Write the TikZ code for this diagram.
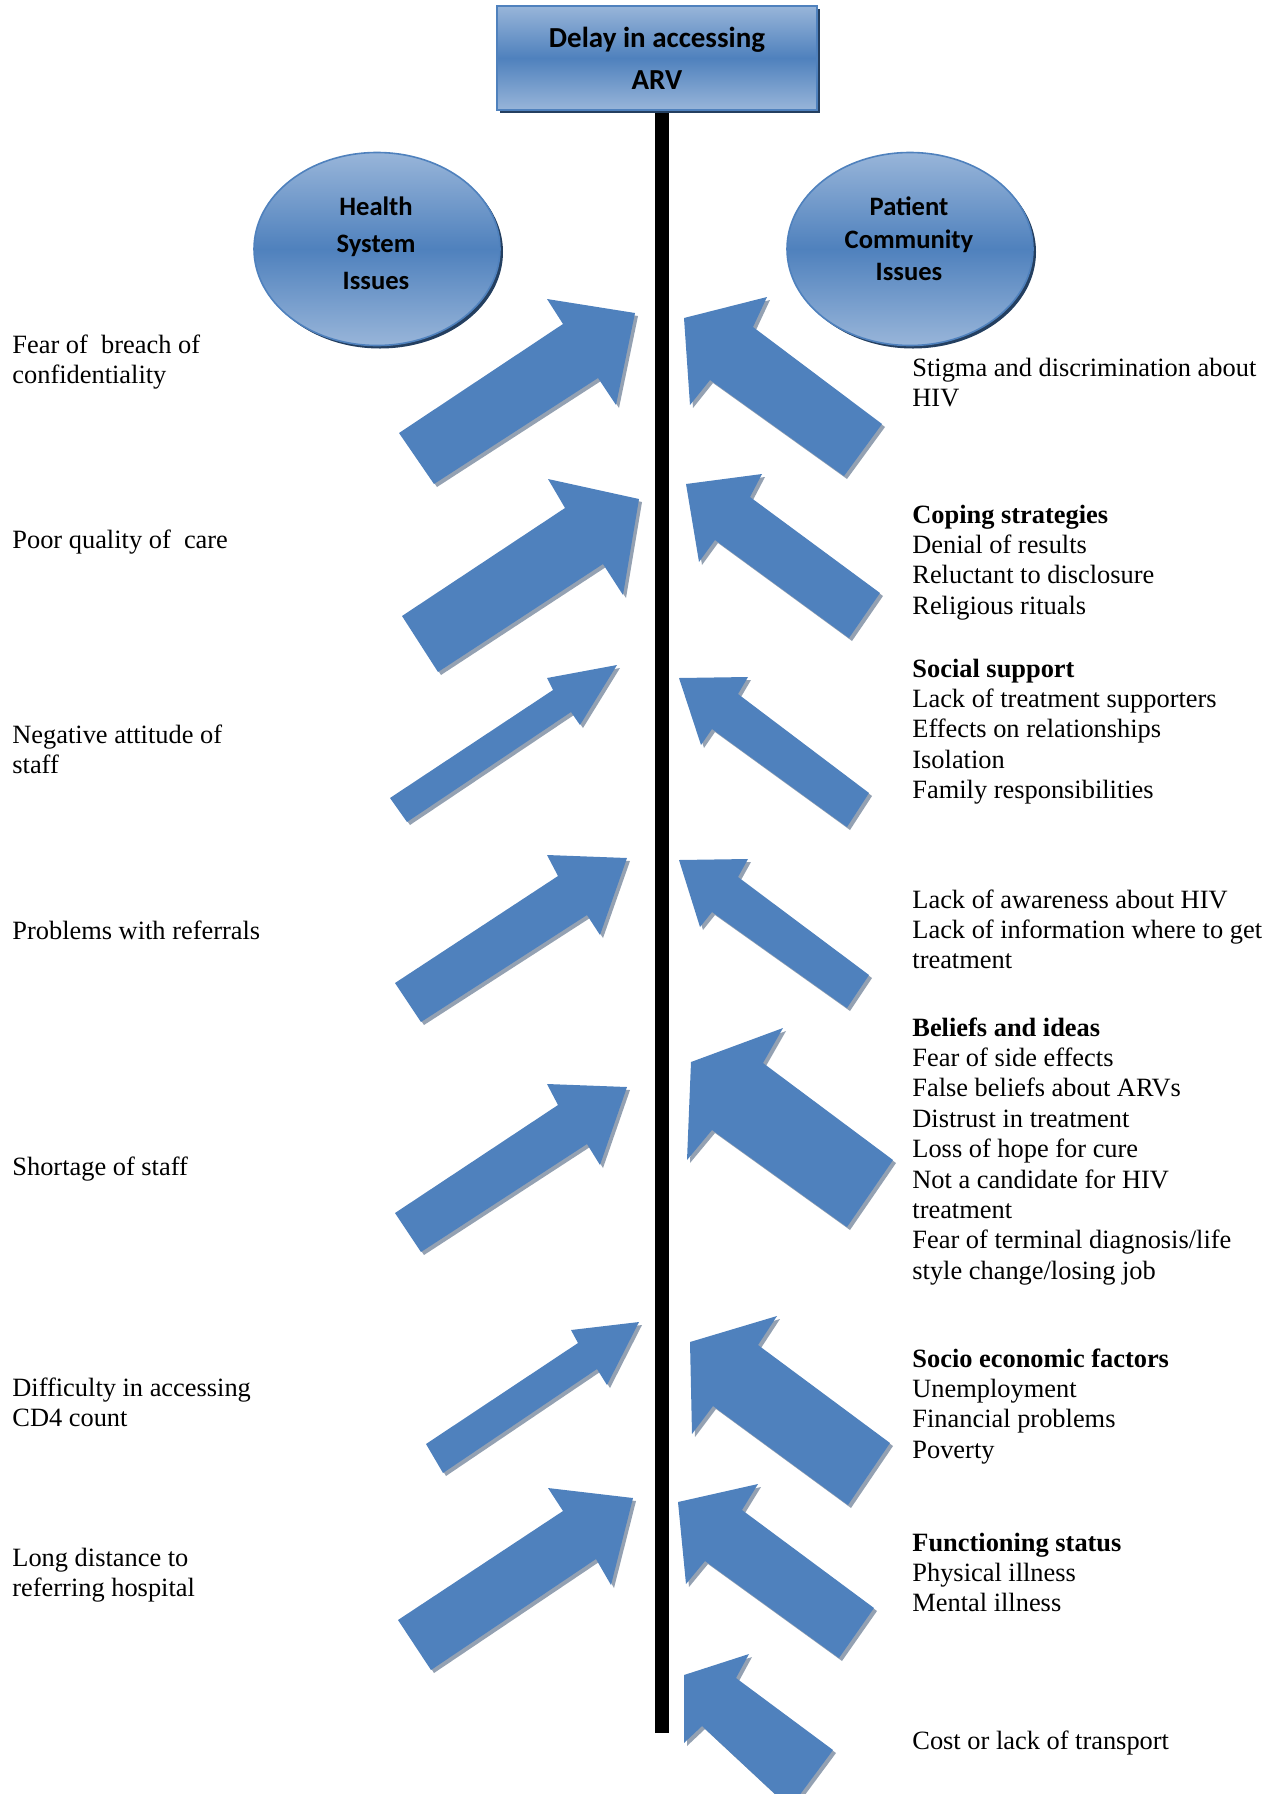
\documentclass[tikz,border=0pt]{standalone}
\usepackage{fontspec}
\setmainfont{Liberation Serif}
\newfontfamily\calibri{Carlito}
\usetikzlibrary{shapes.geometric,shadows}

\definecolor{arrowblue}{HTML}{4F81BD}
\definecolor{arrowgrey}{HTML}{94A1B2}
\definecolor{paleblue}{HTML}{98B5D9}
\definecolor{navyshade}{HTML}{243F60}

\newcommand{\fatarrow}[7]{%
  \fill[arrowgrey,shift={(3,3)}] (#1) -- (#2) -- (#3) -- (#4) -- (#5) -- (#6) -- (#7) -- cycle;
  \fill[arrowblue] (#1) -- (#2) -- (#3) -- (#4) -- (#5) -- (#6) -- (#7) -- cycle;}

\newcommand{\noteblock}[4]{%
  \foreach \ln [count=\k] in {#4}
    \node[note] (#1-\k) at (#2,{#3+(\k-1)*30.4}) {\ln};}

\begin{document}
\begin{tikzpicture}
        [x=0.5pt,y=-0.5pt,
        note/.style={anchor=base west,inner sep=0pt,font=\fontsize{13.2}{15.2}\selectfont},
        glossy/.style={draw=arrowblue,line width=0.8pt,top color=paleblue,bottom color=paleblue,middle color=arrowblue,
                drop shadow={shadow xshift=1.5pt,shadow yshift=-1.5pt,fill=navyshade,opacity=1}},
        issue/.style={glossy,ellipse,minimum width=123pt,minimum height=96.5pt,inner sep=0pt},
        issuetext/.style={align=center,inner sep=0pt,font=\calibri\bfseries\fontsize{13.3}{18.5}\selectfont}]
        \useasboundingbox (0,0) rectangle (1281,1794);
        \clip (0,0) rectangle (1281,1794);

        \fill[black] (655,112) rectangle (669,1733);

        \node[glossy,rectangle,minimum width=160pt,minimum height=52pt,inner sep=0pt,align=center,
                font=\calibri\bfseries\fontsize{14.5}{21}\selectfont] (delay) at (657,58) {Delay in accessing\\ARV};

        \node[issue] (health) at (377,249) {};
        \node[issuetext] (healthtext) at (376,243) {Health\\System\\Issues};
        \node[issue] (patient) at (910,249) {};
        \node[issuetext,font=\calibri\bfseries\fontsize{13.3}{16.3}\selectfont] (patienttext) at (909,239) {Patient\\Community\\Issues};

        % health system side
        \fatarrow{399,433}{563,324}{547,299}{635,313}{616,405}{598,378}{434,484}
        \fatarrow{402,616}{565,508}{548,479}{639,499}{623,595}{603,564}{438,672}
        \fatarrow{390,798}{553,690}{547,678}{617,665}{580,725}{571,712}{407,822}
        \fatarrow{395,983}{558,876}{547,855}{627,858}{600,935}{587,915}{421,1022}
        \fatarrow{395,1213}{558,1105}{547,1084}{627,1087}{600,1165}{587,1144}{421,1252}
        \fatarrow{426,1444}{578,1343}{571,1330}{639,1322}{607,1385}{597,1369}{443,1473}
        \fatarrow{398,1620}{563,1511}{548,1488}{633,1498}{611,1585}{596,1559}{431,1670}

        % patient community side
        \fatarrow{882,424}{753,327}{767,297}{684,318}{690,405}{710,380}{844,476}
        \fatarrow{880,593}{750,497}{762,474}{686,484}{699,562}{715,540}{849,638}
        \fatarrow{869,793}{738,694}{748,677}{679,678}{701,745}{712,729}{847,827}
        \fatarrow{869,975}{738,877}{748,859}{679,860}{700,927}{712,912}{847,1008}
        \fatarrow{893,1160}{763,1063}{783,1028}{691,1062}{687,1160}{712,1130}{847,1227}
        \fatarrow{890,1443}{758,1345}{777,1316}{690,1342}{692,1434}{713,1406}{848,1505}
        \fatarrow{874,1608}{742,1510}{758,1484}{678,1502}{686,1584}{705,1561}{839,1658}
        \fatarrow{833,1750}{736,1678}{749,1654}{684,1675}{684,1743}{702,1726}{790,1808}

        \noteblock{fear}{12}{353}{Fear of\ \ breach of,confidentiality}
        \noteblock{care}{12}{548}{Poor quality of\ \ care}
        \noteblock{attitude}{12}{743}{Negative attitude of,staff}
        \noteblock{referral}{12}{939}{Problems with referrals}
        \noteblock{shortage}{12}{1175}{Shortage of staff}
        \noteblock{cdfour}{12}{1396}{Difficulty in accessing,CD4 count}
        \noteblock{distance}{12}{1566}{Long distance to,referring hospital}

        \noteblock{stigma}{912}{376}{Stigma and discrimination about,HIV}
        \noteblock{coping}{912}{523}{\textbf{Coping strategies},Denial of results,Reluctant to disclosure,Religious rituals}
        \noteblock{support}{912}{677}{\textbf{Social support},Lack of treatment supporters,Effects on relationships,Isolation,Family responsibilities}
        \noteblock{aware}{912}{908}{Lack of awareness about HIV,Lack of information where to get,treatment}
        \noteblock{beliefs}{912}{1036}{\textbf{Beliefs and ideas},Fear of side effects,False beliefs about ARVs,Distrust in treatment,Loss of hope for cure,Not a candidate for HIV,treatment,{Fear of terminal diagnosis/life},{style change/losing job}}
        \noteblock{socio}{912}{1367}{\textbf{Socio economic factors},Unemployment,Financial problems,Poverty}
        \noteblock{status}{912}{1551}{\textbf{Functioning status},Physical illness,Mental illness}
        \noteblock{transport}{912}{1749}{Cost or lack of transport}
\end{tikzpicture}
\end{document}
